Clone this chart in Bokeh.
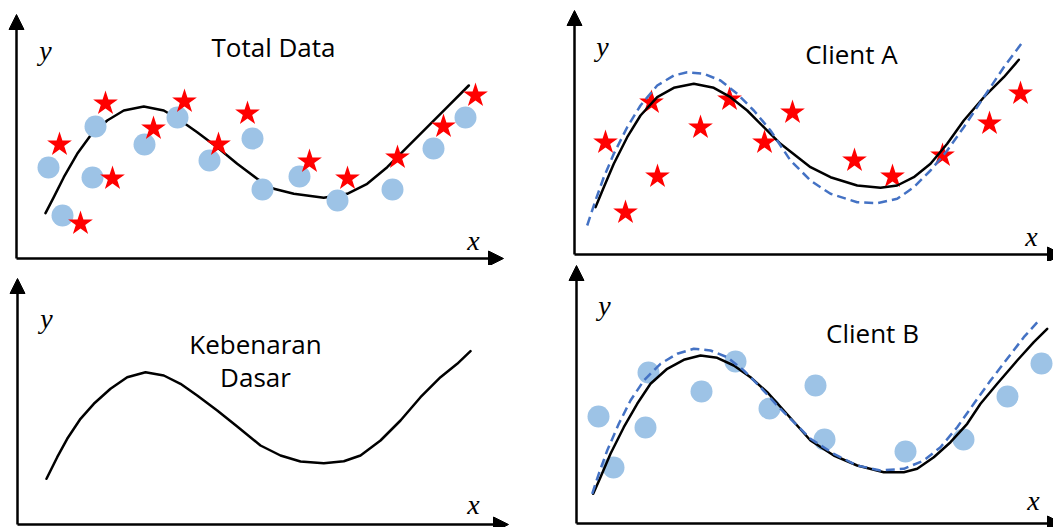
from bokeh.plotting import figure
from bokeh.layouts import row, column
from bokeh.models import Range1d, Arrow, NormalHead
from bokeh.embed import file_html
from bokeh.resources import INLINE
from bokeh.core.properties import value

# ---------------- data (units: arbitrary, origin at axes corner) ----------------
# Panel 1: Total Data
tl_curve_x = [2.9, 3.73, 4.73, 6.07, 7.4, 9.07, 10.73, 12.73, 14.73, 16.4, 18.07, 20.07, 22.07, 24.07, 25.73, 27.73, 30.73, 33.07, 35.07, 37.07, 39.07, 41.07, 43.07, 45.23]
tl_curve_y = [4.53, 6.13, 8.13, 10.47, 12.3, 13.8, 14.8, 15.2, 14.8, 13.8, 12.63, 11.13, 9.47, 7.97, 6.97, 6.47, 6.07, 6.47, 7.47, 9.13, 11.13, 13.13, 15.13, 17.3]
tl_dots_x = [3.2, 4.6, 7.9, 7.6, 12.8, 16.1, 19.3, 23.6, 24.6, 28.3, 32.1, 37.6, 41.7, 44.9]
tl_dots_y = [9.1, 4.3, 13.2, 8.1, 11.4, 14.1, 9.8, 12.0, 6.9, 8.2, 5.8, 6.9, 11.0, 14.1]
tl_stars_x = [4.3, 6.4, 8.9, 9.6, 13.7, 16.8, 20.2, 23.1, 29.3, 33.1, 38.1, 42.7, 45.9]
tl_stars_y = [11.4, 3.5, 15.5, 8.0, 13.0, 15.7, 11.4, 14.5, 9.7, 8.0, 10.1, 13.2, 16.3]

# Panel 2: Client A
tr_curve_x = [2.1, 2.93, 3.93, 5.27, 6.6, 8.27, 9.93, 11.93, 13.93, 15.6, 17.27, 18.93, 20.6, 23.6, 25.6, 28.27, 30.6, 32.27, 33.93, 35.6, 37.27, 38.93, 40.93, 42.93, 44.43]
tr_curve_y = [4.73, 6.73, 9.07, 11.73, 13.9, 15.73, 16.67, 17.07, 16.67, 15.73, 14.4, 12.73, 11.07, 8.73, 7.73, 6.9, 6.67, 6.9, 7.73, 9.07, 11.07, 13.4, 15.73, 17.73, 19.47]
tr_model_x = [1.27, 2.1, 2.93, 3.93, 5.27, 6.6, 8.27, 9.93, 11.27, 12.93, 14.6, 16.27, 17.93, 19.6, 21.6, 23.6, 25.6, 28.27, 30.27, 32.27, 33.93, 35.6, 37.27, 38.93, 40.93, 42.93, 44.93]
tr_model_y = [2.9, 5.4, 7.73, 10.07, 12.73, 14.9, 16.9, 17.9, 18.23, 18.07, 17.4, 16.07, 14.4, 12.4, 9.4, 7.4, 6.07, 5.23, 5.13, 5.57, 6.73, 8.4, 10.4, 12.73, 15.73, 18.73, 21.4]
tr_stars_x = [3.1, 5.1, 7.7, 8.3, 12.6, 15.5, 19.0, 21.8, 28.0, 31.8, 36.8, 41.5, 44.6]
tr_stars_y = [11.2, 4.2, 15.2, 7.8, 12.7, 15.5, 11.2, 14.2, 9.4, 7.8, 9.9, 13.1, 16.1]

# Panel 3: Kebenaran Dasar (ground truth)
bl_curve_x = [2.9, 3.97, 4.97, 6.3, 7.63, 9.3, 10.97, 12.8, 14.63, 16.3, 17.97, 19.97, 21.97, 24.3, 26.3, 28.3, 30.63, 32.63, 34.3, 36.3, 38.3, 40.3, 42.3, 43.97, 45.3]
bl_curve_y = [4.57, 6.73, 8.57, 10.57, 12.07, 13.57, 14.73, 15.23, 14.9, 14.07, 12.9, 11.4, 9.8, 7.9, 6.9, 6.3, 6.13, 6.33, 6.9, 8.4, 10.4, 12.73, 14.73, 16.07, 17.33]

# Panel 4: Client B
br_curve_x = [1.67, 2.4, 3.4, 4.73, 6.07, 7.4, 9.07, 10.73, 12.4, 14.07, 15.73, 17.4, 19.07, 20.73, 23.4, 25.73, 28.07, 30.73, 32.73, 34.07, 35.73, 37.4, 39.07, 40.4, 42.07, 44.07, 45.73, 47.07]
br_curve_y = [2.97, 4.63, 6.97, 9.63, 11.97, 13.97, 15.47, 16.37, 16.8, 16.57, 15.8, 14.63, 13.13, 11.3, 8.3, 6.8, 5.8, 5.13, 5.13, 5.47, 6.63, 8.13, 9.97, 11.97, 13.97, 16.3, 18.13, 19.47]
br_model_x = [1.57, 2.23, 3.07, 4.23, 5.4, 6.73, 8.4, 10.07, 11.73, 13.4, 15.07, 16.73, 18.4, 20.07, 23.4, 25.73, 28.07, 30.4, 32.73, 34.73, 36.4, 38.07, 39.73, 41.4, 43.07, 44.73, 46.4]
br_model_y = [2.97, 4.97, 7.3, 9.97, 12.3, 14.3, 15.97, 16.97, 17.47, 17.3, 16.63, 15.3, 13.63, 11.8, 8.47, 6.97, 5.8, 5.3, 5.47, 6.3, 7.63, 9.63, 11.97, 14.3, 16.47, 18.63, 20.47]
br_dots_x = [2.2, 3.7, 7.2, 6.9, 12.5, 15.9, 19.3, 23.9, 24.8, 32.9, 38.7, 43.1, 46.5]
br_dots_y = [10.7, 5.6, 15.1, 9.6, 13.2, 16.2, 11.5, 13.8, 8.4, 7.2, 8.4, 12.7, 16.0]

titles = ["Total Data", "Client A", "Kebenaran", "Dasar", "Client B"]
axis_labels = ["x", "y"]

# ---------------- styles ----------------
BLUE_DOT = "#9DC3E6"
RED = "#FF0000"
DASH_BLUE = "#4472C4"
TITLE_FONT = value("Open Sans")
LABEL_FONT = value("Liberation Serif")


def make_panel(width, height, ox, oy, sx, sy, x_tip, y_tip):
    p = figure(width=width, height=height,
               x_range=Range1d(-ox / sx, (width - ox) / sx),
               y_range=Range1d(-oy / sy, (height - oy) / sy),
               x_axis_type=None, y_axis_type=None,
               output_backend="svg", toolbar_location=None,
               min_border=0)
    p.outline_line_color = None
    p.background_fill_color = "white"
    p.border_fill_color = "white"
    for xe, ye in [(x_tip, 0), (0, y_tip)]:
        p.add_layout(Arrow(end=NormalHead(size=15, fill_color="black", line_color="black", line_width=1),
                           x_start=0, y_start=0, x_end=xe, y_end=ye,
                           line_color="black", line_width=2.5))
    return p


def add_labels(p, xl, yl):
    p.text(x=[xl[0], yl[0]], y=[xl[1], yl[1]], text=axis_labels,
           text_font=LABEL_FONT, text_font_style="italic", text_font_size="28px",
           text_align="center", text_baseline="middle", text_color="black")


def add_title(p, xs, ys, txt):
    p.text(x=xs, y=ys, text=txt, text_font=TITLE_FONT, text_font_size="26px",
           text_align="center", text_baseline="middle", text_color="black")


LINE = dict(line_color="black", line_width=2.5, line_join="round", line_cap="round")
DASH = dict(line_color=DASH_BLUE, line_width=2.5, line_dash="9 5", line_join="round")

# Panel 1
tl = make_panel(560, 265, 16, 7, 10, 10, 48.7, 24.4)
tl.line(tl_curve_x, tl_curve_y, **LINE)
tl.scatter(tl_dots_x, tl_dots_y, marker="circle", size=22, fill_color=BLUE_DOT, line_color=None)
tl.scatter(tl_stars_x, tl_stars_y, marker="star", size=26, fill_color=RED, line_color=None)
add_title(tl, [25.7], [21.2], titles[0:1])
add_labels(tl, (45.7, 1.8), (2.9, 20.8))

# Panel 2
tr = make_panel(493, 261, 14, 7, 10, 10, 48.8, 24.4)
tr.scatter(tr_stars_x, tr_stars_y, marker="star", size=26, fill_color=RED, line_color=None)
tr.line(tr_curve_x, tr_curve_y, **LINE)
tr.line(tr_model_x, tr_model_y, **DASH)
add_title(tr, [27.7], [20.1], titles[1:2])
add_labels(tr, (45.7, 1.8), (2.8, 20.8))

# Panel 3
bl = make_panel(560, 262, 17, 3, 10, 10, 49.1, 24.6)
bl.line(bl_curve_x, bl_curve_y, **LINE)
add_title(bl, [23.8, 23.8], [18.1, 14.8], titles[2:4])
add_labels(bl, (45.6, 2.0), (2.9, 20.6))

# Panel 4
br = make_panel(493, 266, 16, 4, 10, 10, 48.6, 25.8)
br.scatter(br_dots_x, br_dots_y, marker="circle", size=22, fill_color=BLUE_DOT, line_color=None)
br.line(br_curve_x, br_curve_y, **LINE)
br.line(br_model_x, br_model_y, **DASH)
add_title(br, [29.6], [19.1], titles[4:5])
add_labels(br, (45.7, 2.3), (2.8, 21.8))

layout = row(column(tl, bl), column(tr, br))

open("out.html", "w").write(file_html(layout, INLINE))
